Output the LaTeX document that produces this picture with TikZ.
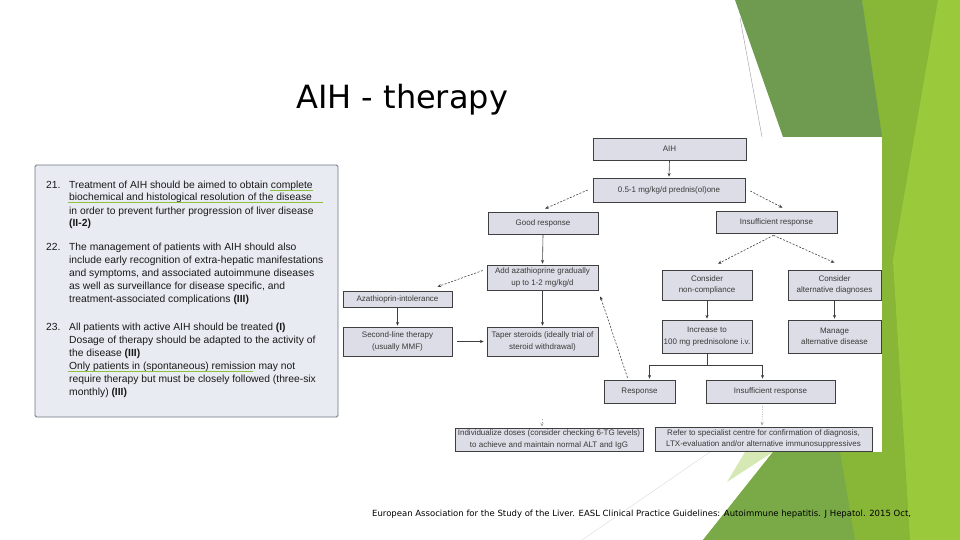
\documentclass[tikz,border=0pt]{standalone}
\usepackage{fontspec}
\setmainfont{Liberation Sans}
\newfontfamily\titlefont{DejaVu Sans}
\usetikzlibrary{arrows.meta}

\definecolor{panelfill}{HTML}{E8EBF1}
\definecolor{panelline}{HTML}{6E7684}
\definecolor{boxfill}{HTML}{DCDDE6}
\definecolor{boxline}{HTML}{3F3F3F}
\definecolor{boxtext}{HTML}{3A3A3A}
\definecolor{hilite}{HTML}{8DC13F}
\definecolor{darkleaf}{HTML}{6F9B51}
\definecolor{limeleaf}{HTML}{88B636}
\definecolor{brightleaf}{HTML}{9ACA3C}
\definecolor{midleaf}{HTML}{7AAA47}
\definecolor{paleleaf}{HTML}{D6E9B5}

\begin{document}
\begin{tikzpicture}[
    x=1pt, y=-1pt,
    box/.style={
        draw=boxline,
        fill=boxfill,
        line width=0.6pt,
        inner sep=1pt,
        align=center,
        text=boxtext,
        font=\fontsize{8}{11.5}\selectfont
    },
    flow/.style={
        -{Stealth[length=3.8pt,width=3.2pt]},
        line width=0.6pt,
        draw=boxline
    },
    dashflow/.style={
        flow,
        dash pattern=on 2pt off 1.5pt
    },
    item/.style={
        anchor=base west,
        inner sep=0pt,
        text=black!90,
        font=\fontsize{10.3}{13}\selectfont
    },
    underline/.style={
        draw=hilite,
        line width=1.4pt
    }
]
    \useasboundingbox (0,0) rectangle (960,540);

    % green facets on the right
    \fill[limeleaf] (862,0) -- (960,0) -- (960,540) -- (703,540) -- (773,452) -- (882,300) -- cycle;
    \fill[brightleaf] (938,0) -- (960,0) -- (960,540) -- (910,540) -- (893,260) -- cycle;
    \fill[darkleaf] (735,0) -- (862,0) -- (882,137) -- (783,137) -- cycle;
    \fill[midleaf] (773,452) -- (840,452) -- (855,540) -- (703,540) -- cycle;
    \fill[paleleaf] (745,452) -- (773,452) -- (727,482) -- cycle;
    \draw[black!40, line width=0.4pt] (740,18) -- (762,137);
    \draw[black!15, line width=0.4pt] (710,452) -- (582,540);

    % title
    \node[anchor=base west, inner sep=0pt, font=\titlefont\fontsize{32}{36}\selectfont] (title) at (296,109) {AIH - therapy};

    % recommendations panel
    \node[draw=panelline, fill=panelfill, rounded corners=1.5pt, line width=0.8pt,
          minimum width=303pt, minimum height=252pt, inner sep=0pt] (panel) at (186.5,291) {};
    \foreach \num/\y/\txt in {
        21/188/{Treatment of AIH should be aimed to obtain complete\\
                biochemical and histological resolution of the disease\\
                in order to prevent further progression of liver disease\\
                \textbf{(II-2)}},
        22/250.5/{The management of patients with AIH should also\\
                include early recognition of extra-hepatic manifestations\\
                and symptoms, and associated autoimmune diseases\\
                as well as surveillance for disease specific, and\\
                treatment-associated complications \textbf{(III)}},
        23/330/{All patients with active AIH should be treated \textbf{(I)}\\
                Dosage of therapy should be adapted to the activity of\\
                the disease \textbf{(III)}\\
                Only patients in (spontaneous) remission may not\\
                require therapy but must be closely followed (three-six\\
                monthly) \textbf{(III)}}%
    } {
        \node[item] (n\num) at (46,\y) {\num.};
        \node[item] (t\num) at (69,\y) {\begin{tabular}[t]{@{}l@{}}\txt\end{tabular}};
    }
    \draw[underline] (270,190.5) -- (313,190.5);
    \draw[underline] (68,202.5) -- (323,202.5);
    \draw[underline] (68,371.5) -- (253,371.5);

    % flowchart
    \fill[white] (592,137) rectangle (882,452);
    \foreach \name/\x/\y/\w/\h/\txt in {
        AIH/669.5/149/153/22/AIH,
        pred/669/190/152/24/{0.5-1 mg/kg/d prednis(ol)one},
        insA/776.5/222/121/22/Insufficient response,
        good/543/223/110/22/Good response,
        aza/542.5/277.5/111/25/{Add azathioprine gradually\\up to 1-2 mg/kg/d},
        intol/397.5/299/109/16/Azathioprin-intolerance,
        second/397.5/341.5/109/29/{Second-line therapy\\(usually MMF)},
        taper/542.5/341.5/111/29/{Taper steroids (ideally trial of\\steroid withdrawal)},
        noncomp/707/285/90/30/{Consider\\non-compliance},
        altdx/834.5/285/93/30/{Consider\\alternative diagnoses},
        incr/707/336.5/90/33/{Increase to\\100 mg prednisolone i.v.},
        manage/834.5/336.5/93/33/{Manage\\alternative disease},
        resp/639.5/391.5/71/23/Response,
        insB/770.5/391.5/129/23/Insufficient response,
        indiv/549/439.5/188/23/{Individualize doses (consider checking 6-TG levels)\\to achieve and maintain normal ALT and IgG},
        refer/763.5/439/217/24/{Refer to specialist centre for confirmation of diagnosis,\\LTX-evaluation and/or alternative immunosuppressives}%
    } {
        \node[box, minimum width=\w pt, minimum height=\h pt] (\name) at (\x,\y) {\txt};
    }

    \foreach \u/\v in {
        AIH/pred,
        good/aza,
        aza/taper,
        intol/second,
        noncomp/incr,
        altdx/manage%
    } {
        \draw[flow] (\u.south) -- ([yshift=1pt]\v.north);
    }
    \draw[flow] ([xshift=5pt]second.east) -- ([xshift=-3pt]taper.west);

    \draw[dashflow] ([xshift=5pt,yshift=-1pt]pred.east) -- ([xshift=6pt,yshift=3pt]insA.north);
    \draw[dashflow] ([xshift=-5pt]pred.west) -- ([xshift=2pt,yshift=3pt]good.north);
    \draw[dashflow] ([xshift=-4pt,yshift=7pt]aza.west) -- ([xshift=40pt,yshift=4pt]intol.north);
    \draw[dashflow] ([xshift=-3pt,yshift=-2pt]insA.south) -- ([xshift=11pt,yshift=6pt]noncomp.north);
    \draw[dashflow] ([xshift=-3pt,yshift=-2pt]insA.south) -- ([yshift=7pt]altdx.north);
    \draw[dashflow] ([xshift=-12pt,yshift=2pt]resp.north) -- ([xshift=2pt,yshift=-6pt]aza.south east);

    \draw[line width=0.6pt, draw=boxline] (incr.south) -- ++(0,12) coordinate (split);
    \draw[flow] (split) -| ([xshift=10pt,yshift=1pt]resp.north);
    \draw[flow] (split) -| ([xshift=-8pt,yshift=1pt]insB.north);

    \draw[flow, draw=black!35, dash pattern=on 1pt off 1.5pt] ([xshift=-8pt,yshift=-3pt]insB.south) -- ([xshift=-1.5pt,yshift=1pt]refer.north);
    \coordinate (longterm) at (542,419);
    \draw[flow, draw=black!35, dash pattern=on 1pt off 1.5pt] (longterm) -- ([xshift=-7pt,yshift=1pt]indiv.north);

    % reference
    \node[anchor=base west, inner sep=0pt, font=\titlefont\fontsize{8.5}{10}\selectfont] (source) at (372,516)
        {European Association for the Study of the Liver. EASL Clinical Practice Guidelines: Autoimmune hepatitis. J Hepatol. 2015 Oct,};
\end{tikzpicture}
\end{document}
